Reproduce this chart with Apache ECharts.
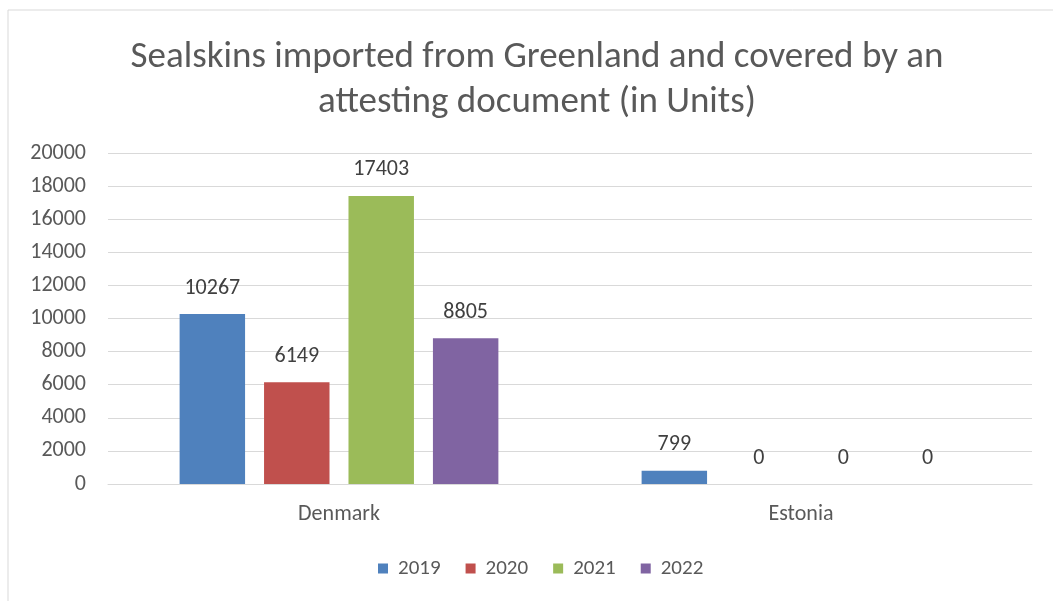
<!DOCTYPE html>
<html><head><meta charset="utf-8">
<script src="https://cdn.jsdelivr.net/npm/echarts@6/dist/echarts.min.js"></script>
<style>html,body{margin:0;padding:0;background:#fff}#c{width:1053px;height:601px}</style>
</head><body><div id="c"></div>
<script>
const categories = ['Denmark', 'Estonia'];
const years = ['2019', '2020', '2021', '2022'];
const v2019 = [10267, 799];
const v2020 = [6149, 0];
const v2021 = [17403, 0];
const v2022 = [8805, 0];
const yTicks = [0, 20000, 2000];
const colors = ['#4F81BD', '#C0504D', '#9BBB59', '#8064A2'];
const values = [v2019, v2020, v2021, v2022];
const FONT = "Carlito, 'Liberation Sans Narrow', 'Open Sans', sans-serif";

const chart = echarts.init(document.getElementById('c'));
chart.setOption({
  animation: false,
  textStyle: { fontFamily: FONT },
  graphic: [{ type: 'rect', shape: { x: 8, y: 10, width: 1060, height: 600 }, style: { fill: 'none', stroke: '#d9d9d9', lineWidth: 1 }, silent: true }],
  title: {
    text: 'Sealskins imported from Greenland and covered by an\nattesting document (in Units)',
    left: 532, textAlign: 'center', top: 30,
    textStyle: { fontFamily: FONT, fontSize: 37, fontWeight: 'normal', color: '#595959', lineHeight: 45 }
  },
  legend: {
    data: years, bottom: 17, left: 373, itemWidth: 10, itemHeight: 10, itemGap: 25,
    icon: 'rect', textStyle: { fontFamily: FONT, fontSize: 21, color: '#595959', padding: [0, 0, 0, 5] }
  },
  grid: { left: 108, right: 21, top: 153, bottom: 117 },
  xAxis: {
    type: 'category', data: categories,
    axisLine: { lineStyle: { color: '#d9d9d9' } }, axisTick: { show: false },
    axisLabel: { fontFamily: FONT, fontSize: 22, color: '#595959', margin: 19 }
  },
  yAxis: {
    type: 'value', min: yTicks[0], max: yTicks[1], interval: yTicks[2],
    axisLine: { show: false }, axisTick: { show: false },
    splitLine: { lineStyle: { color: '#d9d9d9' } },
    axisLabel: { fontFamily: FONT, fontSize: 22, color: '#595959', margin: 22, formatter: v => String(v) }
  },
  series: years.map((y, i) => ({
    name: y, type: 'bar', data: values[i], barGap: '29%', barCategoryGap: '31%',
    itemStyle: { color: colors[i] },
    label: { show: true, position: 'top', distance: 15, fontFamily: FONT, fontSize: 22, color: '#404040' }
  }))
});
</script></body></html>
